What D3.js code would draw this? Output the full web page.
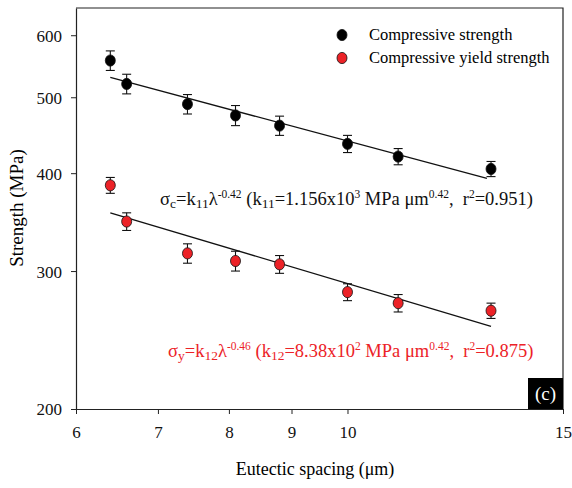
<!DOCTYPE html>
<html>
<head>
<meta charset="utf-8">
<script src="https://cdn.jsdelivr.net/npm/d3@7"></script>
<style>
  body { margin: 0; background: #fff; }
</style>
</head>
<body>
<svg id="chart"></svg>
<script>
// eutectic spacing (um)
const spacing = [6.4, 6.6, 7.4, 8.1, 8.8, 10.0, 11.0, 13.1];
// compressive strength (MPa) and error
const compStrength = [557, 520, 490, 474, 460, 436, 420, 405];
const compErr = [16, 15, 14, 14, 13, 11, 10, 9];
// compressive yield strength (MPa) and error
const yieldStrength = [386, 347, 316, 309, 306, 282, 273, 267];
const yieldErr = [9, 9, 9, 9, 8, 7, 7, 6];
// fitted line end points [spacing, strength]
const fitComp = [[6.4, 530], [13.0, 394]];
const fitYield = [[6.4, 356], [13.1, 255]];

const xTicks = [6, 7, 8, 9, 10, 15];
const yTicks = [200, 300, 400, 500, 600];
const seriesNames = ["Compressive strength", "Compressive yield strength"];

let WIDTH = 572;
let HEIGHT = 488;
let RED = "#ec2227";
let FONT = "'Liberation Serif'";

let svg = d3.select("#chart")
  .attr("width", WIDTH)
  .attr("height", HEIGHT)
  .style("font-family", FONT);

let x = d3.scaleLog().domain([6, 15]).range([76, 563]);
let y = d3.scaleLog().domain([200, 650]).range([409, 8]);

// frame (top + right)
svg.append("path")
  .attr("d", "M" + x(6) + "," + y(650) + "H" + x(15) + "V" + y(200))
  .style("fill", "none")
  .style("stroke", "#222")
  .style("stroke-width", 1.2);

// axes
let xAxis = svg.append("g")
  .attr("transform", "translate(0," + y(200) + ")")
  .call(d3.axisBottom(x).tickValues(xTicks).tickFormat(d3.format("d")).tickSize(5).tickSizeOuter(0).tickPadding(12));

let yAxis = svg.append("g")
  .attr("transform", "translate(" + x(6) + ",0)")
  .call(d3.axisLeft(y).tickValues(yTicks).tickFormat(d3.format("d")).tickSize(5).tickSizeOuter(0).tickPadding(9));

[xAxis, yAxis].forEach((ax) => {
  ax.attr("font-family", null);
  ax.select(".domain").style("stroke", "#222").style("stroke-width", 1.2);
  ax.selectAll(".tick line").style("stroke", "#222").style("stroke-width", 1);
  ax.selectAll(".tick text")
    .style("font-family", FONT)
    .style("font-size", "17px")
    .style("fill", "#111");
});
yAxis.selectAll(".tick text").attr("dy", "0.35em");

// axis titles
svg.append("text")
  .attr("x", 315)
  .attr("y", 475)
  .attr("text-anchor", "middle")
  .style("font-family", FONT)
  .style("font-size", "18px")
  .text("Eutectic spacing (\u03bcm)");

svg.append("text")
  .attr("transform", "translate(23,208)rotate(-90)")
  .attr("text-anchor", "middle")
  .style("font-family", FONT)
  .style("font-size", "19px")
  .text("Strength (MPa)");

// fit lines
let line = d3.line()
  .x(d => x(d[0]))
  .y(d => y(d[1]));

[fitComp, fitYield].forEach((fit) => {
  svg.append("path")
    .attr("d", line(fit))
    .style("fill", "none")
    .style("stroke", "#111")
    .style("stroke-width", 1.3);
});

// points with error bars
function drawSeries(vals, errs, fill, cls) {
  let g = svg.append("g").attr("class", cls);
  let pts = spacing.map((s, i) => ({ s: s, v: vals[i], e: errs[i] }));

  let bars = g.selectAll(".err")
    .data(pts)
  .enter().append("g")
    .attr("class", "err");

  bars.append("line")
    .attr("x1", d => x(d.s)).attr("x2", d => x(d.s))
    .attr("y1", d => y(d.v + d.e)).attr("y2", d => y(d.v - d.e));
  bars.append("line")
    .attr("x1", d => x(d.s) - 4.5).attr("x2", d => x(d.s) + 4.5)
    .attr("y1", d => y(d.v + d.e)).attr("y2", d => y(d.v + d.e));
  bars.append("line")
    .attr("x1", d => x(d.s) - 4.5).attr("x2", d => x(d.s) + 4.5)
    .attr("y1", d => y(d.v - d.e)).attr("y2", d => y(d.v - d.e));
  bars.selectAll("line")
    .style("stroke", "#111")
    .style("stroke-width", 1.1);

  g.selectAll("ellipse")
    .data(pts)
  .enter().append("ellipse")
    .attr("cx", d => x(d.s))
    .attr("cy", d => y(d.v))
    .attr("rx", 5)
    .attr("ry", 5.6)
    .style("fill", fill)
    .style("stroke", "#111")
    .style("stroke-width", 0.8);
}

drawSeries(compStrength, compErr, "#000", "comp");
drawSeries(yieldStrength, yieldErr, RED, "yield");

// legend
let legend = svg.append("g").attr("class", "legend");
seriesNames.forEach((name, i) => {
  legend.append("ellipse")
    .attr("cx", 342)
    .attr("cy", 35 + i * 23)
    .attr("rx", 5)
    .attr("ry", 5.6)
    .style("fill", i === 0 ? "#000" : RED)
    .style("stroke", "#111")
    .style("stroke-width", 0.8);
  legend.append("text")
    .attr("x", 369)
    .attr("y", 40 + i * 23)
    .style("font-family", FONT)
    .style("font-size", "16.5px")
    .text(name);
});

// equations
function equation(xPos, yPos, color, parts) {
  let t = svg.append("text")
    .attr("x", xPos)
    .attr("y", yPos)
    .style("font-family", FONT)
    .style("font-size", "18.5px")
    .style("fill", color);
  parts.forEach((p) => {
    let sp = t.append("tspan").text(p[0]);
    if (p[1] === "sub") {
      sp.attr("baseline-shift", "-3").style("font-size", "13.5px");
    } else if (p[1] === "sup") {
      sp.attr("baseline-shift", "7").style("font-size", "11.5px");
    }
  });
}

equation(160, 205, "#111", [
  ["\u03c3"], ["c", "sub"], ["=k"], ["11", "sub"], ["\u03bb"], ["-0.42", "sup"],
  [" (k"], ["11", "sub"], ["=1.156x10"], ["3", "sup"], [" MPa \u03bcm"], ["0.42", "sup"],
  [",\u00a0 r"], ["2", "sup"], ["=0.951)"]
]);

equation(168, 357, RED, [
  ["\u03c3"], ["y", "sub"], ["=k"], ["12", "sub"], ["\u03bb"], ["-0.46", "sup"],
  [" (k"], ["12", "sub"], ["=8.38x10"], ["2", "sup"], [" MPa \u03bcm"], ["0.42", "sup"],
  [",\u00a0 r"], ["2", "sup"], ["=0.875)"]
]);

// panel label
svg.append("rect")
  .attr("x", 528)
  .attr("y", 378)
  .attr("width", x(15) - 528)
  .attr("height", y(200) - 378)
  .style("fill", "#000");

svg.append("text")
  .attr("x", 545.5)
  .attr("y", 400)
  .attr("text-anchor", "middle")
  .style("font-family", FONT)
  .style("font-size", "19px")
  .style("fill", "#fff")
  .text("(c)");
</script>
</body>
</html>
